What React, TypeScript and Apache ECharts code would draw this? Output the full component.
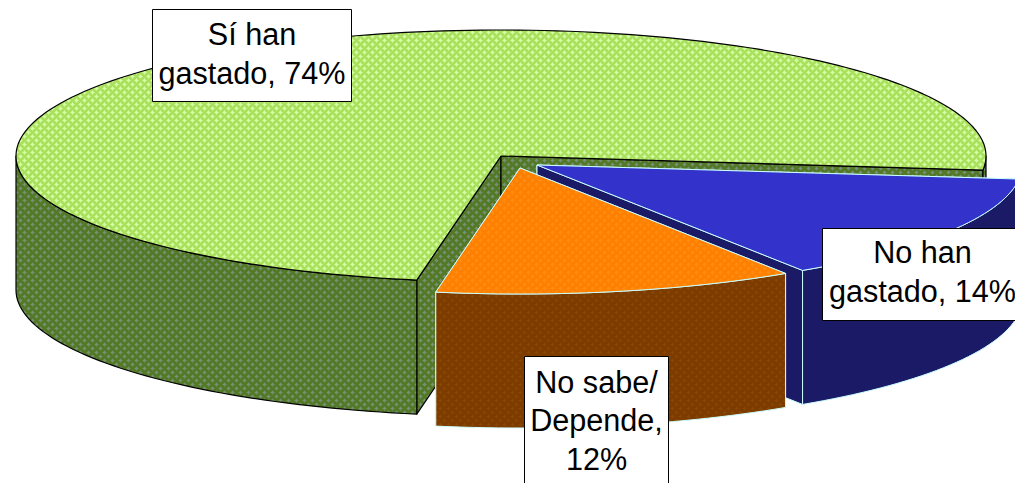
import React, { useEffect, useRef } from "react";
import * as echarts from "echarts";

const categories = ["Sí han\ngastado, 74%", "No han\ngastado, 14%", "No sabe/\nDepende,\n12%"];
const values = [74, 14, 12];

const W = 1015;
const H = 483;
const RX = 485;
const RY = 126;
const DEPTH = 134;
const START_ANGLE = 100;
const apexes = [[501, 156], [537, 165], [520, 168]];
const boxes = [
  { x: 152.5, y: 9.5, w: 199, h: 92 },
  { x: 822.5, y: 228.5, w: 200, h: 92 },
  { x: 524.5, y: 356.5, w: 144, h: 130 },
];
const textCenters = [53.5, 271.5, 420];
const strokes = ["#000000", "#CCFFFF", "#CCFFFF"];

function tile(base: string, mid: string, light: string) {
  const c = document.createElement("canvas");
  c.width = 8;
  c.height = 8;
  const g = c.getContext("2d")!;
  for (let y = 0; y < 8; y++) {
    for (let x = 0; x < 8; x++) {
      const d1 = Math.abs(x - 4) + Math.abs(y - 4);
      const dx = Math.min(x, 8 - x);
      const dy = Math.min(y, 8 - y);
      const d2 = dx + dy;
      const d = Math.min(d1, d2);
      let col = base;
      if (d <= 1) col = light;
      else if (d === 2) col = mid;
      g.fillStyle = col;
      g.fillRect(x, y, 1, 1);
    }
  }
  return c;
}

function pat(c: HTMLCanvasElement) {
  return { image: c, repeat: "repeat", imageWidth: 8, imageHeight: 8 };
}

export default function App() {
  const ref = useRef<HTMLDivElement>(null);
  useEffect(() => {
    document.body.style.margin = "0";
    const chart = echarts.init(ref.current!, null, { renderer: "svg", width: W, height: H });
    const tops = [
      pat(tile("#ABE05C", "#BFF080", "#D2FFA6")),
      "#3333CC",
      pat(tile("#FF8000", "#FF8606", "#FF8C10")),
    ];
    const sides = [
      pat(tile("#527A24", "#62823E", "#76907A")),
      "#1A1A66",
      pat(tile("#7C3C00", "#803F00", "#884600")),
    ];
    const total = values.reduce((a, b) => a + b, 0);

    const renderItem = (params: any, api: any) => {
      const i = params.dataIndex;
      let before = 0;
      for (let k = 0; k < i; k++) before += values[k];
      const a0 = START_ANGLE + (before / total) * 360;
      const a1 = a0 + (api.value(0) / total) * 360;
      const [cx, cy] = apexes[i];
      const pt = (deg: number, dy = 0) => {
        const r = (deg * Math.PI) / 180;
        return [cx + RX * Math.cos(r), cy + RY * Math.sin(r) + dy];
      };
      const arc = (from: number, to: number, dy = 0) => {
        const n = Math.max(2, Math.ceil(Math.abs(to - from) / 1.5));
        const out: number[][] = [];
        for (let k = 0; k <= n; k++) out.push(pt(from + ((to - from) * k) / n, dy));
        return out;
      };
      const edge = { stroke: strokes[i], lineWidth: i === 0 ? 1.2 : 1, lineJoin: "round" };
      const children: any[] = [];
      [a0, a1].forEach((a) => {
        const p = pt(a);
        children.push({
          type: "polygon",
          shape: { points: [[cx, cy], p, [p[0], p[1] + DEPTH], [cx, cy + DEPTH]] },
          style: { fill: sides[i], ...edge },
        });
      });
      for (let k = -1; k < 3; k++) {
        const lo = Math.max(a0, 360 * k);
        const hi = Math.min(a1, 360 * k + 180);
        if (hi > lo) {
          children.push({
            type: "polygon",
            shape: { points: [...arc(lo, hi), ...arc(hi, lo, DEPTH)] },
            style: { fill: sides[i], ...edge },
          });
        }
      }
      children.push({
        type: "polygon",
        shape: { points: [[cx, cy], ...arc(a0, a1)] },
        style: { fill: tops[i], ...edge },
      });
      const b = boxes[i];
      children.push({
        type: "rect",
        shape: { x: b.x, y: b.y, width: b.w, height: b.h },
        style: { fill: "#FFFFFF", stroke: "#000000", lineWidth: 1 },
      });
      children.push({
        type: "text",
        style: {
          text: categories[i],
          x: b.x + b.w / 2,
          y: textCenters[i],
          textAlign: "center",
          textVerticalAlign: "middle",
          font: '30.6px "Liberation Sans", Arial, sans-serif',
          lineHeight: 38.5,
          fill: "#000000",
        },
      });
      return { type: "group", children };
    };

    chart.setOption({
      animation: false,
      backgroundColor: "#FFFFFF",
      tooltip: { show: false },
      series: [
        {
          type: "custom",
          coordinateSystem: "none",
          renderItem,
          clip: false,
          silent: true,
          data: values.map((v, i) => ({ name: categories[i], value: [v] })),
        },
      ],
    });
    return () => chart.dispose();
  }, []);
  return <div ref={ref} style={{ width: W, height: H, overflow: "hidden" }} />;
}
